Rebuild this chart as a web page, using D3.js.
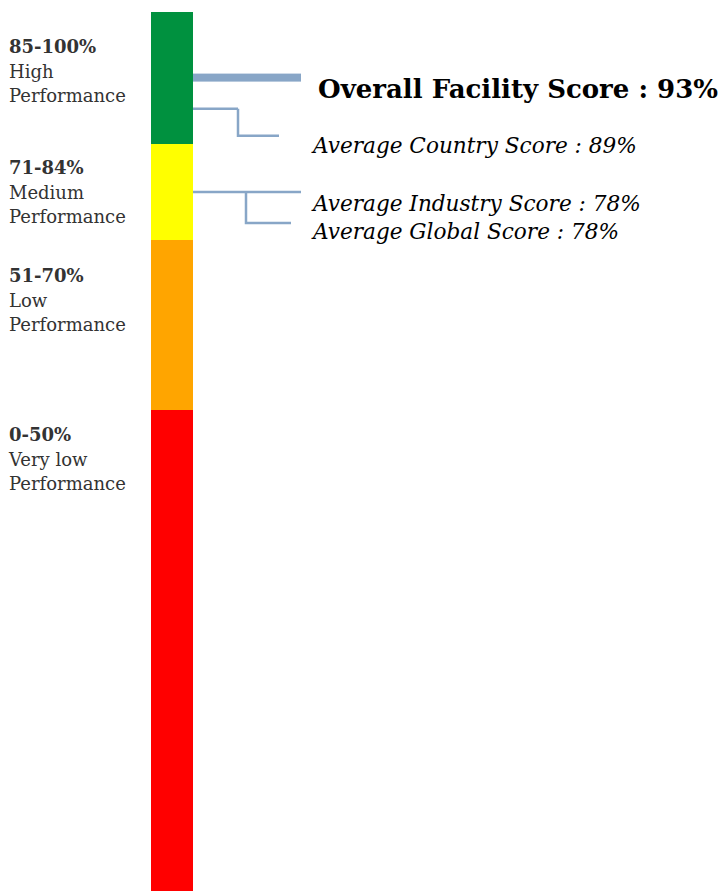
<!DOCTYPE html>
<html>
<head>
<meta charset="utf-8">
<script src="https://cdn.jsdelivr.net/npm/d3@7"></script>
<style>
  body { margin: 0; background: #fff; }
  svg { display: block; }
</style>
</head>
<body>
<svg width="723" height="891"></svg>
<script>
// performance bands, top to bottom
const bandRanges = ["85-100%", "71-84%", "51-70%", "0-50%"];
const bandNames = [["High", "Performance"], ["Medium", "Performance"], ["Low", "Performance"], ["Very low", "Performance"]];
const bandHigh = [100, 85, 71, 51];
const bandLow = [85, 71, 51, 0];
const bandColors = ["#00913f", "#ffff00", "#ffa500", "#ff0000"];

// scores shown next to the bar
const overallLabel = "Overall Facility Score";
const overallScore = 93;
const countryLabel = "Average Country Score";
const countryScore = 89;
const industryLabel = "Average Industry Score";
const industryScore = 78;
const globalLabel = "Average Global Score";
const globalScore = 78;

const svg = d3.select("svg"),
    width = +svg.attr("width"),
    height = +svg.attr("height");

const barX = 151, barW = 42, barTop = 12;
const lineColor = "#88a6c7";
const fontFam = "'DejaVu Serif', serif";

// bands are not equal height, so a piecewise scale
const y = d3.scaleLinear()
    .domain([0, 51, 71, 85, 100])
    .range([height, 410, 240, 144, barTop]);

svg.selectAll(".band")
    .data(bandRanges)
    .enter()
    .append("rect")
    .attr("x", barX)
    .attr("width", barW)
    .attr("y", (d, i) => y(bandHigh[i]))
    .attr("height", (d, i) => y(bandLow[i]) - y(bandHigh[i]))
    .style("fill", (d, i) => bandColors[i]);

// left labels
const labelOffsets = [41, 30, 42, 31];
const labels = svg.selectAll(".lbl")
    .data(bandRanges)
    .enter()
    .append("text")
    .attr("x", 9)
    .attr("y", (d, i) => y(bandHigh[i]) + labelOffsets[i])
    .style("font-family", fontFam)
    .style("font-size", "18px")
    .style("fill", "#333");

labels.append("tspan")
    .style("font-weight", "bold")
    .text(d => d);

labels.each(function (d, i) {
    bandNames[i].forEach(n => {
        d3.select(this).append("tspan")
            .attr("x", 9)
            .attr("dy", 24.5)
            .text(n);
    });
});

const x0 = barX + barW;

// overall score marker: thick bar hanging from the score
svg.append("rect")
    .attr("x", x0)
    .attr("y", y(overallScore))
    .attr("width", 108)
    .attr("height", 8)
    .style("fill", lineColor);

svg.append("text")
    .attr("x", 318)
    .attr("y", y(overallScore) + 24)
    .style("font-family", fontFam)
    .style("font-weight", "bold")
    .style("font-size", "26px")
    .style("fill", "#000")
    .text(`${overallLabel} : ${overallScore}%`);

// elbow connectors
function elbow(score, elbowX, drop, endX, firstLen) {
    const yy = y(score);
    const path = d3.path();
    path.moveTo(x0, yy);
    path.lineTo(x0 + firstLen, yy);
    path.moveTo(elbowX, yy);
    path.lineTo(elbowX, yy + drop);
    path.lineTo(endX, yy + drop);
    svg.append("path")
        .attr("d", path.toString())
        .style("fill", "none")
        .style("stroke", lineColor)
        .style("stroke-width", 2.5);
}

elbow(countryScore, 238, 27, 279, 45);
elbow(industryScore, 246, 31, 291, 108);

const italic = (txt, yy) => svg.append("text")
    .attr("x", 313)
    .attr("y", yy)
    .style("font-family", fontFam)
    .style("font-style", "italic")
    .style("font-size", "21.6px")
    .style("fill", "#000")
    .text(txt);

italic(`${countryLabel} : ${countryScore}%`, y(countryScore) + 44);
italic(`${industryLabel} : ${industryScore}%`, y(industryScore) + 19);
italic(`${globalLabel} : ${globalScore}%`, y(globalScore) + 47);
</script>
</body>
</html>
